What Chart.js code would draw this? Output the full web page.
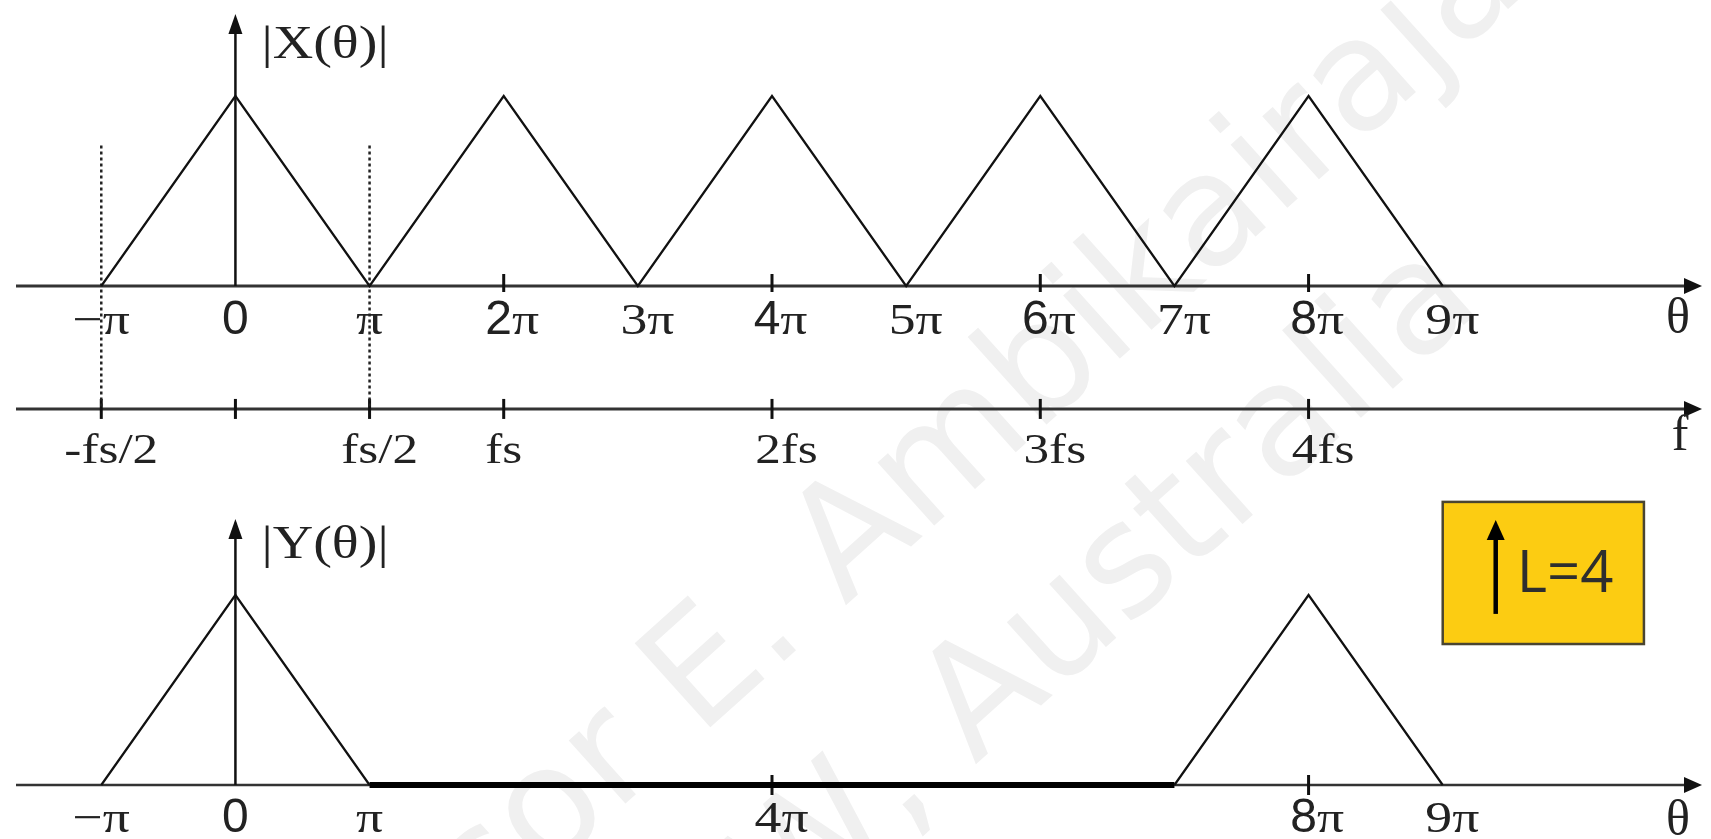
<!DOCTYPE html>
<html>
<head>
<meta charset="utf-8">
<script src="https://cdn.jsdelivr.net/npm/chart.js@4.4.1/dist/chart.umd.min.js"></script>
<style>
    html, body { margin: 0; padding: 0; background: #fff; overflow: hidden; }
    #wrap { width: 1711px; height: 839px; }
</style>
</head>
<body>
<div id="wrap"><canvas id="spectrum" width="1711" height="839"></canvas></div>
<script>
// all θ values are in multiples of π
const inputTheta = [-1, 0, 1, 2, 3, 4, 5, 6, 7, 8, 9];
const inputMag   = [0, 1, 0, 1, 0, 1, 0, 1, 0, 1, 0];
const baseTheta  = [-1, 0, 1];
const baseMag    = [0, 1, 0];
const imageTheta = [7, 8, 9];
const imageMag   = [0, 1, 0];
const stopTheta  = [1, 7];
const stopMag    = [0, 0];
const foldTheta  = [-1, 1];

const topTicks  = [-1, 0, 1, 2, 3, 4, 5, 6, 7, 8, 9];
const topLabels = ['−π', '0', 'π', '2π', '3π', '4π', '5π', '6π', '7π', '8π', '9π'];
const topMarks  = [2, 4, 6, 8];
const fTicks    = [-1, 0, 1, 2, 4, 6, 8];
const fLabels   = ['-fs/2', '', 'fs/2', 'fs', '2fs', '3fs', '4fs'];
const botTicks  = [-1, 0, 1, 4, 8, 9];
const botLabels = ['−π', '0', 'π', '4π', '8π', '9π'];
const botMarks  = [4, 8];
const sansTop   = ['0', '2π', '4π', '6π', '8π'];
const sansBot   = ['0', '8π'];
const upText    = 'L=4';

const FOLD_TOP = 0.74;     // top of the dotted guides (|X| units)
const F_LEVEL  = -0.647;   // where the f axis sits on the top scale

const SERIF = '"Liberation Serif", "Times New Roman", serif';
const SANS  = '"Liberation Sans", Arial, sans-serif';
const WIDE  = 1.22;        // serif labels are drawn a little wide

function pts(xs, ys) {
    return xs.map((x, i) => ({ x: x, y: ys[i] }));
}

function arrow(ctx, x, y, dir, len, half) {
    ctx.beginPath();
    if (dir === 'right') {
        ctx.moveTo(x, y);
        ctx.lineTo(x - len, y - half);
        ctx.lineTo(x - len, y + half);
    } else {
        ctx.moveTo(x, y);
        ctx.lineTo(x - half, y + len);
        ctx.lineTo(x + half, y + len);
    }
    ctx.closePath();
    ctx.fill();
}

function hAxis(ctx, area, y, width) {
    ctx.strokeStyle = '#333';
    ctx.fillStyle = '#111';
    ctx.lineWidth = width;
    ctx.beginPath();
    ctx.moveTo(area.left + 16, y);
    ctx.lineTo(area.right - 20, y);
    ctx.stroke();
    arrow(ctx, area.right - 9, y, 'right', 18, 8);
}

function marks(ctx, xs, y, up, down) {
    ctx.strokeStyle = '#111';
    ctx.lineWidth = 3;
    xs.forEach(px => {
        ctx.beginPath();
        ctx.moveTo(px, y - up);
        ctx.lineTo(px, y + down);
        ctx.stroke();
    });
}

// text drawn with a horizontal stretch, left aligned
function wideText(ctx, text, x, y, sx) {
    ctx.save();
    ctx.translate(x, y);
    ctx.scale(sx, 1);
    ctx.fillText(text, 0, 0);
    ctx.restore();
}

// digit-led labels put their first character on the tick
function tickLabel(ctx, label, x, y, sansDigit, size) {
    if (!label) return;
    ctx.fillStyle = '#222';
    ctx.textBaseline = 'alphabetic';
    ctx.textAlign = 'left';
    const lead = /^\d/.test(label);
    if (sansDigit) {
        const head = label.replace('π', '');
        const tail = label.slice(head.length);
        ctx.font = `${size + 4}px ${SANS}`;
        const wHead = ctx.measureText(head).width;
        const w1 = ctx.measureText(head[0]).width;
        const left = tail ? x - w1 / 2 - 5 : x - wHead / 2;
        ctx.fillText(head, left, y);
        ctx.font = `${size}px ${SERIF}`;
        wideText(ctx, tail, left + wHead, y, WIDE);
        return;
    }
    ctx.font = `${size}px ${SERIF}`;
    const w = ctx.measureText(label).width * WIDE;
    let left = lead ? x - ctx.measureText(label[0]).width * WIDE / 2 - 4 : x - w / 2;
    if (label.includes('/')) left += 10;
    wideText(ctx, label, left, y, WIDE);
}

const spectrumAxes = {
    id: 'spectrumAxes',
    beforeDatasetsDraw(chart) {
        const { ctx, chartArea: area, scales } = chart;
        const x = scales.x, yT = scales.yTop, yB = scales.yBot;
        ctx.save();

        // faint watermark
        ctx.fillStyle = '#f0f0f0';
        ctx.font = '155px "DejaVu Sans", sans-serif';
        ctx.textBaseline = 'alphabetic';
        [['Professor E. ', 'Ambikairajah', 845, 606], ['UNSW, ', 'Australia', 975, 765]].forEach(w => {
            ctx.save();
            ctx.translate(w[2], w[3]);
            ctx.rotate(-42 * Math.PI / 180);
            ctx.textAlign = 'right';
            ctx.fillText(w[0], 0, 0);
            ctx.textAlign = 'left';
            ctx.fillText(w[1], 0, 0);
            ctx.restore();
        });

        const x0 = x.getPixelForValue(0);
        const topY = yT.getPixelForValue(0);
        const fY = yT.getPixelForValue(F_LEVEL);
        const botY = yB.getPixelForValue(0);

        hAxis(ctx, area, topY, 3);
        hAxis(ctx, area, fY, 3);
        hAxis(ctx, area, botY, 2.5);

        // vertical magnitude axes
        ctx.strokeStyle = '#111';
        ctx.fillStyle = '#111';
        ctx.lineWidth = 2.5;
        ctx.beginPath();
        ctx.moveTo(x0, topY);
        ctx.lineTo(x0, area.top + 30);
        ctx.moveTo(x0, botY);
        ctx.lineTo(x0, yB.getPixelForValue(1.38));
        ctx.stroke();
        arrow(ctx, x0, area.top + 14, 'up', 20, 7);
        arrow(ctx, x0, yB.getPixelForValue(1.4), 'up', 20, 7);

        marks(ctx, topMarks.map(v => x.getPixelForValue(v)), topY, 12, 6);
        marks(ctx, fTicks.map(v => x.getPixelForValue(v)), fY, 10, 10);
        marks(ctx, botMarks.map(v => x.getPixelForValue(v)), botY, 10, 10);
        ctx.restore();
    },
    afterDatasetsDraw(chart) {
        const { ctx, chartArea: area, scales } = chart;
        const x = scales.x, yT = scales.yTop, yB = scales.yBot;
        ctx.save();
        const topY = yT.getPixelForValue(0);
        const fY = yT.getPixelForValue(F_LEVEL);
        const botY = yB.getPixelForValue(0);

        topTicks.forEach((v, i) => tickLabel(ctx, topLabels[i], x.getPixelForValue(v), topY + 48,
            sansTop.includes(topLabels[i]), 44));
        fTicks.forEach((v, i) => tickLabel(ctx, fLabels[i], x.getPixelForValue(v), fY + 54, false, 42));
        botTicks.forEach((v, i) => tickLabel(ctx, botLabels[i], x.getPixelForValue(v), botY + 47,
            sansBot.includes(botLabels[i]), 44));

        // axis names
        ctx.fillStyle = '#222';
        ctx.textAlign = 'left';
        ctx.textBaseline = 'middle';
        ctx.font = `46px ${SERIF}`;
        const x0 = x.getPixelForValue(0);
        wideText(ctx, '|X(θ)|', x0 + 26, area.top + 46, WIDE);
        wideText(ctx, '|Y(θ)|', x0 + 26, yB.getPixelForValue(1.26), WIDE);
        ctx.font = `50px ${SERIF}`;
        ctx.textAlign = 'center';
        ctx.textBaseline = 'alphabetic';
        ctx.fillText('θ', area.right - 33, topY + 47);
        ctx.fillText('f', area.right - 31, fY + 41);
        ctx.fillText('θ', area.right - 33, botY + 50);

        // upsampling block
        const bx = x.getPixelForValue(9), bx2 = x.getPixelForValue(10.5);
        const by = yB.getPixelForValue(1.49), by2 = yB.getPixelForValue(0.742);
        ctx.fillStyle = '#fccc12';
        ctx.fillRect(bx, by, bx2 - bx, by2 - by);
        ctx.strokeStyle = '#4a4530';
        ctx.lineWidth = 2.5;
        ctx.strokeRect(bx, by, bx2 - bx, by2 - by);
        const ax = bx + 53;
        ctx.strokeStyle = '#000';
        ctx.fillStyle = '#000';
        ctx.lineWidth = 4.5;
        ctx.beginPath();
        ctx.moveTo(ax, by + 112);
        ctx.lineTo(ax, by + 34);
        ctx.stroke();
        arrow(ctx, ax, by + 18, 'up', 20, 9);
        ctx.fillStyle = '#2e2e2e';
        ctx.font = '58px "Open Sans", sans-serif';
        ctx.textAlign = 'left';
        ctx.textBaseline = 'middle';
        ctx.fillText(upText, bx + 74, by + 74);
        ctx.restore();
    }
};

const ink = { borderColor: '#111', borderWidth: 2.2, showLine: true, pointRadius: 0, fill: false, tension: 0 };

new Chart(document.getElementById('spectrum'), {
    type: 'scatter',
    data: {
        datasets: [
            Object.assign({ label: 'X', data: pts(inputTheta, inputMag), yAxisID: 'yTop' }, ink),
            Object.assign({}, ink, {
                label: 'fold', yAxisID: 'yTop', borderWidth: 2.5, borderDash: [3, 3], borderColor: '#222',
                data: [{ x: foldTheta[0], y: FOLD_TOP }, { x: foldTheta[0], y: F_LEVEL }, { x: NaN, y: NaN },
                       { x: foldTheta[1], y: FOLD_TOP }, { x: foldTheta[1], y: F_LEVEL }],
                spanGaps: false
            }),
            Object.assign({ label: 'Y', data: pts(baseTheta, baseMag), yAxisID: 'yBot' }, ink),
            Object.assign({ label: 'Y image', data: pts(imageTheta, imageMag), yAxisID: 'yBot' }, ink),
            Object.assign({}, ink, { label: 'stop', data: pts(stopTheta, stopMag), yAxisID: 'yBot', borderWidth: 6, borderColor: '#000' })
        ]
    },
    options: {
        responsive: false,
        animation: false,
        layout: { padding: 0 },
        plugins: { legend: { display: false }, tooltip: { enabled: false } },
        scales: {
            x: { type: 'linear', min: -1.755, max: 11.0, display: false },
            yTop: { type: 'linear', position: 'left', min: -2.9105, max: 1.5053, display: false },
            yBot: { type: 'linear', position: 'left', min: -0.2842, max: 4.1316, display: false }
        }
    },
    plugins: [spectrumAxes]
});
</script>
</body>
</html>
